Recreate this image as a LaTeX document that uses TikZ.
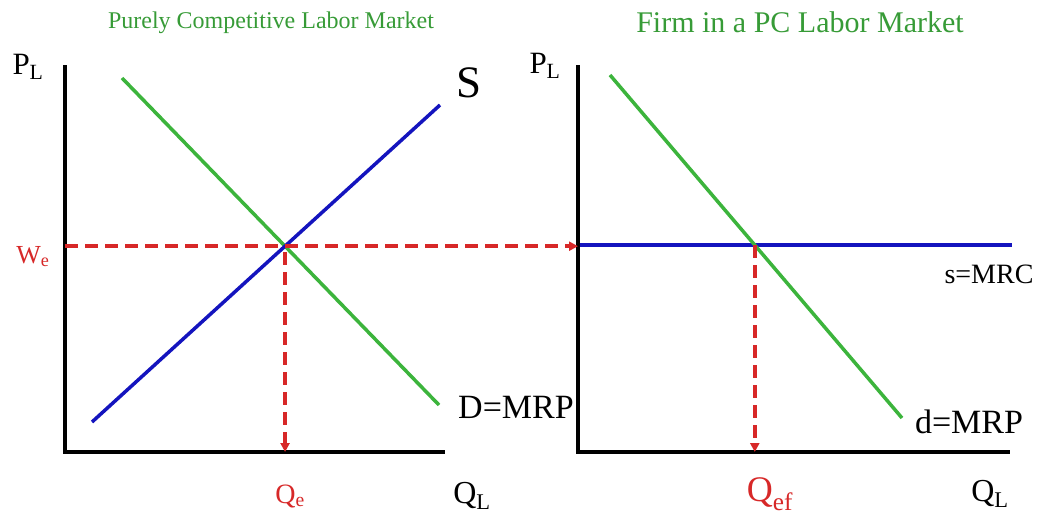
\documentclass[tikz,border=0pt]{standalone}
\usepackage{fontspec}
\setmainfont{Liberation Serif}
\usetikzlibrary{arrows.meta}

\definecolor{curvegreen}{RGB}{60,180,60}
\definecolor{titlegreen}{RGB}{55,155,55}
\definecolor{curveblue}{RGB}{20,20,190}
\definecolor{guidered}{RGB}{215,40,40}

\tikzset{
  axis/.style={line width=4pt, black},
  demand/.style={line width=3.5pt, curvegreen},
  supply/.style={line width=3.5pt, curveblue},
  guide/.style={line width=3.5pt, guidered, dash pattern=on 13pt off 7pt,
    -{Triangle[length=9pt,width=9pt]}},
  title/.style={text=titlegreen, anchor=base},
  lbl/.style={anchor=base, font=\fontsize{34}{36}\selectfont},
  redlbl/.style={anchor=base, text=guidered, font=\fontsize{26}{28}\selectfont},
}

\begin{document}
\begin{tikzpicture}[x=1pt, y=-1pt]
        \useasboundingbox (0,0) rectangle (1044,517);

        % Axes origins and ends
        \coordinate (LO) at (65,452);
        \coordinate (LT) at (65,65);
        \coordinate (LR) at (445,452);
        \coordinate (RO) at (578,452);
        \coordinate (RT) at (578,65);
        \coordinate (RR) at (1010,452);

        % Curve end points
        \coordinate (Dtop) at (122,78);
        \coordinate (Dbot) at (439,405);
        \coordinate (Sbot) at (92,422);
        \coordinate (Stop) at (440,105);
        \coordinate (dtop) at (610,75);
        \coordinate (dbot) at (902,418);
        \coordinate (sL) at (580,245);
        \coordinate (sR) at (1012,245);

        % Equilibrium points
        \coordinate (E) at (intersection of Dtop--Dbot and Sbot--Stop);
        \coordinate (e) at (intersection of dtop--dbot and sL--sR);

        % Axes
        \draw[axis] (LT) -- (LO) -- (LR);
        \draw[axis] (RT) -- (RO) -- (RR);

        % Market curves
        \draw[demand] (Dtop) -- (Dbot);
        \draw[supply] (Sbot) -- (Stop);

        % Firm curves
        \draw[supply] (sL) -- (sR);
        \draw[demand] (dtop) -- (dbot);

        % Wage and quantity guides
        \draw[guide] (LO |- E) -- (RO |- E);
        \draw[guide] ([yshift=-6pt]E) -- (E |- LO);
        \draw[guide] (e) -- (e |- RO);

        % Titles
        \node[title, font=\fontsize{24}{26}\selectfont] (ttlL) at (271,28) {Purely Competitive Labor Market};
        \node[title, font=\fontsize{30}{32}\selectfont] (ttlR) at (800,32) {Firm in a PC Labor Market};

        % Left panel labels
        \node[lbl, font=\fontsize{31}{33}\selectfont] (PL1) at (28,74) {P\textsubscript{L}};
        \node[lbl, font=\fontsize{45}{47}\selectfont] (Slbl) at (469,97) {S};
        \node[redlbl] (We) at (33,263) {W\textsubscript{e}};
        \node[redlbl, font=\fontsize{28}{30}\selectfont] (Qe) at (290,503) {Q\textsubscript{e}};
        \node[lbl, font=\fontsize{32}{34}\selectfont] (QL1) at (472,503) {Q\textsubscript{L}};
        \node[lbl] (Dlbl) at (516,418) {D=MRP};

        % Right panel labels
        \node[lbl, font=\fontsize{31}{33}\selectfont] (PL2) at (545,73) {P\textsubscript{L}};
        \node[lbl, font=\fontsize{28}{30}\selectfont] (sMRC) at (989,283) {s=MRC};
        \node[lbl] (dlbl) at (969,433) {d=MRP};
        \node[redlbl, font=\fontsize{36}{38}\selectfont] (Qef) at (770,501) {Q\textsubscript{ef}};
        \node[lbl, font=\fontsize{32}{34}\selectfont] (QL2) at (990,501) {Q\textsubscript{L}};
      \end{tikzpicture}
\end{document}
